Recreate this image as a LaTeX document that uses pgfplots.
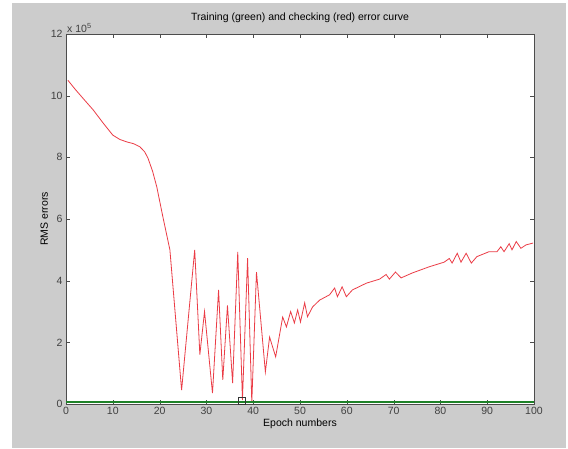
\documentclass[border=0pt]{standalone}
\usepackage{pgfplots}
\pgfplotsset{compat=1.18}
\usepackage{fontspec}
\setmainfont{Liberation Sans}
\definecolor{figgray}{RGB}{204,204,204}
\definecolor{chkred}{RGB}{235,60,70}
\definecolor{trngreen}{RGB}{30,130,40}
\begin{document}
\begin{tikzpicture}[x=1pt,y=1pt]
\fill[white] (0,0) rectangle (568,448);
\fill[figgray] (12,0) rectangle (566,445);
\begin{axis}[
    at={(66pt,44pt)}, anchor=south west,
    scale only axis,
    width=468pt, height=370pt,
    xmin=0, xmax=100, ymin=0, ymax=12,
    xtick={0,10,...,100},
    ytick={0,2,...,12},
    tick align=inside,
    axis background/.style={fill=white},
    axis line style={draw=black!70},
    major tick length=4pt,
    tick style={black!70},
    font=\fontsize{10.5}{12}\selectfont,
    ticklabel style={font=\fontsize{10.5}{12}\selectfont, text=black!75},
    /pgf/number format/assume math mode=true,
    scaled ticks=false,
    title={Training (green) and checking (red) error curve},
    title style={font=\fontsize{10.5}{12}\selectfont, yshift=2pt},
    xlabel={Epoch numbers},
    ylabel={RMS errors},
    xlabel style={yshift=3pt},
    ylabel style={yshift=-4pt},
    clip=false,
]
\addplot[chkred, line width=0.8pt] coordinates {
(0.4,10.5) (2,10.2) (4,9.85) (5.8,9.54) (8,9.1) (10,8.72) (11.5,8.58) (13,8.5)
(14.5,8.44) (15.8,8.34) (16.8,8.18) (17.5,7.98) (18.5,7.55) (19.4,7.04)
(20.7,6.07) (22.2,5.0) (24.7,0.45) (27.5,5.0)
(28.6,1.6) (29.6,3.0) (31.3,0.35) (32.6,3.7) (33.5,0.78) (34.5,3.2)
(35.6,0.68) (36.7,4.93) (37.7,0.13) (38.8,4.73) (39.7,0.05) (40.7,4.28)
(42.6,1.04) (43.5,2.17) (44.8,1.53) (46.3,2.82) (47.1,2.5) (48,3.0)
(48.8,2.63) (49.5,3.05) (50.1,2.66) (51,3.28) (51.6,2.83) (52.7,3.15)
(54.2,3.37) (56.3,3.54) (57.4,3.76) (58,3.48) (59,3.8) (59.9,3.48)
(61.2,3.7) (64.2,3.92) (67,4.05) (68.4,4.2) (69.1,4.05) (70.4,4.28)
(71.6,4.09) (74,4.25) (77.6,4.45) (80.8,4.6) (81.9,4.72) (82.5,4.57)
(83.6,4.89) (84.4,4.6) (85.5,4.89) (86.6,4.57) (87.8,4.78) (90.4,4.94)
(92.1,4.94) (92.9,5.1) (93.6,4.94) (94.7,5.2) (95.3,5.0) (96.2,5.27)
(97.2,5.05) (98.3,5.16) (99.8,5.22)
};
\addplot[trngreen, line width=1.5pt] coordinates {(0,0.06) (100,0.06)};
\addplot[black!80, only marks, mark=square, mark size=3.5pt, thin] coordinates {(37.5,0.12)};
\node[anchor=south west, font=\fontsize{10.5}{12}\selectfont, text=black!75, inner sep=1pt]
    at (rel axis cs:0,1) {x 10\textsuperscript{5}};
\end{axis}
\end{tikzpicture}
\end{document}
